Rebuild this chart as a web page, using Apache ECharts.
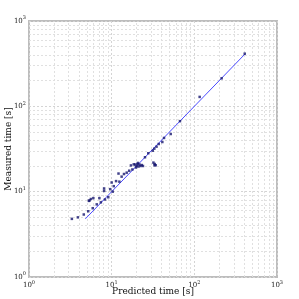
<!DOCTYPE html>
<html>
<head>
<meta charset="utf-8">
<script src="https://cdn.jsdelivr.net/npm/echarts@6/dist/echarts.min.js"></script>
<style>html,body{margin:0;padding:0;background:#fff}#c{width:299px;height:299px}</style>
</head>
<body>
<div id="c"></div>
<script>
// Predicted vs measured times (seconds)
var predicted = [3.3,3.9,4.6,5.2,5.3,5.4,5.6,6.0,5.9,6.6,7.1,7.4,8.1,8.1,8.3,9.1,9.6,10.0,10.3,10.6,12.1,12.4,14.1,15.2,16.3,17.1,17.8,19.2,20.0,20.5,21.1,21.7,22.3,23.1,23.9,19.7,20.8,18.5,25.3,27.7,31.4,32.8,34.9,37.1,41.0,43.0,51.8,67.0,116,214,407,32.0,33.0,34.1,33.2,13.2,11.3];
var measured  = [4.8,5.0,5.4,5.9,7.8,7.9,8.2,8.4,6.4,7.1,8.4,7.5,10.9,10.2,8.1,8.6,10.7,12.8,10.0,11.6,16.3,13.1,16.1,16.7,17.6,20.3,18.2,20.8,20.0,21.1,19.7,20.8,20.0,20.5,20.0,19.2,21.7,20.9,25.3,28.2,30.2,31.9,33.7,36.2,38.2,42.6,47.4,67.0,129,213,414,21.9,20.4,20.4,21.1,15.0,13.3];
// ideal line (predicted = measured)
var idealLine = [4.8, 410];
var majorTicks = [1, 10, 100, 1000];
var minorTicks = [2,3,4,5,6,7,8,9,20,30,40,50,60,70,80,90,200,300,400,500,600,700,800,900];

var pts = predicted.map(function(p, i){ return [p, measured[i]]; });
var linePts = idealLine.map(function(v){ return [v, v]; });

var gridLines = [];
minorTicks.forEach(function(v){ gridLines.push({xAxis: v}); gridLines.push({yAxis: v}); });

function fmt(v){
  var e = Math.round(Math.log(v)/Math.LN10);
  return '{b|10}{s|' + e + '}';
}
var rich = {
  b: {fontFamily: 'DejaVu Serif', fontSize: 7, color: '#222'},
  s: {fontFamily: 'DejaVu Serif', fontSize: 5, color: '#222', verticalAlign: 'top', padding: [0,0,6,0]}
};

var chart = echarts.init(document.getElementById('c'), null, {renderer: 'canvas'});
chart.setOption({
  animation: false,
  backgroundColor: '#ffffff',
  grid: {left: 29, right: 22, top: 21, bottom: 22, containLabel: false, outerBoundsMode: 'none',
         show: true, borderColor: '#bdbdbd', borderWidth: 2, backgroundColor: 'transparent'},
  xAxis: {
    type: 'log', logBase: 10, min: 1, max: 1000,
    name: 'Predicted time [s]', nameLocation: 'middle', nameGap: 10, nameMoveOverlap: false,
    nameTextStyle: {fontFamily: 'DejaVu Serif', fontSize: 9, color: '#111'},
    axisLine: {show: false}, axisTick: {show: false},
    axisLabel: {formatter: fmt, rich: rich, margin: 3},
    splitLine: {show: true, lineStyle: {type: [2,2], color: '#d4d4d4', width: 1}}
  },
  yAxis: {
    type: 'log', logBase: 10, min: 1, max: 1000,
    name: 'Measured time [s]', nameLocation: 'middle', nameGap: 16, nameMoveOverlap: false,
    nameTextStyle: {fontFamily: 'DejaVu Serif', fontSize: 9, color: '#111'},
    axisLine: {show: false}, axisTick: {show: false},
    axisLabel: {formatter: fmt, rich: rich, margin: 3},
    splitLine: {show: true, lineStyle: {type: [2,2], color: '#d4d4d4', width: 1}}
  },
  series: [
    {
      type: 'line', data: linePts, showSymbol: false, symbol: 'none',
      lineStyle: {color: '#4a4aff', width: 1}, z: 3, silent: true,
      markLine: {
        silent: true, symbol: 'none', label: {show: false},
        lineStyle: {type: [2,2], color: '#e0e0e0', width: 1},
        data: gridLines, z: 1
      }
    },
    {
      type: 'scatter', data: pts, symbol: 'rect', symbolSize: 2.5,
      itemStyle: {color: '#15156e'}, z: 4
    }
  ]
});
</script>
</body>
</html>
